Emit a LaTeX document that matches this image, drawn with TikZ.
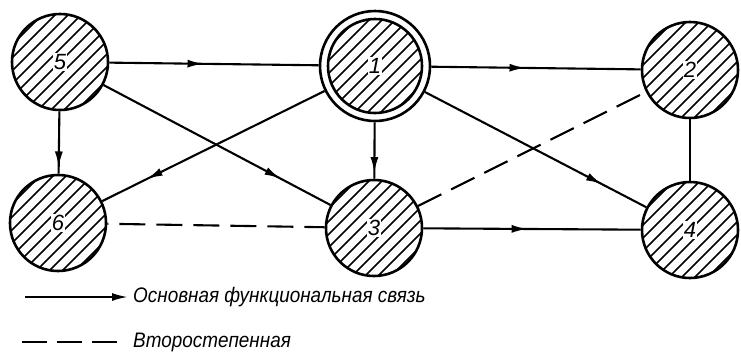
\documentclass[tikz,border=0pt]{standalone}
\usepackage{fontspec}
\setmainfont{Liberation Sans}
\newfontfamily\legfont{Liberation Sans}[FakeStretch=0.9]
\usetikzlibrary{arrows.meta,decorations.markings}
\newcommand\zonehatch[1]{%
  \clip (path picture bounding box.center) circle (#1);
  \foreach \k in {-91,-78,...,91}
    \draw[hatchline] ([shift={(\k-90,90)}]path picture bounding box.center) -- ++(180,-180);}
\begin{document}
\begin{tikzpicture}[x=1pt,y=-1pt,
  hatchline/.style={line width=1.6pt},
  zone/.style={circle, draw, line width=2.6pt, minimum size=96pt, inner sep=0pt,
    path picture={\zonehatch{48}}},
  mainzone/.style={circle, draw, line width=2.6pt, minimum size=110pt, inner sep=0pt,
    path picture={\draw[line width=2.6pt] (path picture bounding box.center) circle (47);\zonehatch{47}}},
  digit/.style={font=\fontsize{22}{22}\selectfont\itshape, fill=white, inner sep=1pt},
  conn/.style={line width=2.1pt},
  sec/.style={line width=2.1pt, dash pattern=on 26pt off 11pt},
  midarrow/.style={postaction={decorate}, decoration={markings,
    mark=at position #1 with {\arrow{Latex[length=16pt,width=8pt]}}}},
  legtext/.style={anchor=west, font=\legfont\fontsize{21}{21}\selectfont\itshape, inner sep=0pt}
]
\useasboundingbox (0,0) rectangle (741,357);
% zones
\node[zone] (n5) at (60,62) {};
\node[mainzone] (n1) at (375,66) {};
\node[zone] (n2) at (690,70) {};
\node[zone] (n6) at (58,223) {};
\node[zone] (n3) at (374,228) {};
\node[zone] (n4) at (690,230) {};
\node[digit] (d5) at (n5) {5};
\node[digit] (d1) at (n1) {1};
\node[digit] (d2) at (n2) {2};
\node[digit] (d6) at (n6) {6};
\node[digit] (d3) at (n3) {3};
\node[digit] (d4) at (n4) {4};
% main links
\draw[conn, midarrow=0.45] (n5) -- (n1);
\draw[conn, midarrow=0.45] (n1) -- (n2);
\draw[conn, midarrow=0.48] (n3) -- (n4);
\draw[conn, midarrow=0.9] (n5) -- (n6);
\draw[conn, midarrow=0.9] (n1) -- (n3);
\draw[conn, midarrow=0.78] (n5) -- (n3);
\draw[conn, midarrow=0.8] (n1) -- (n6);
\draw[conn, midarrow=0.8] (n1) -- (n4);
\draw[conn] (n2) -- (n4);
% secondary links
\draw[sec, dash phase=-12pt] (n6) -- (n3);
\draw[sec] (n3) -- (n2);
% legend
\coordinate (la) at (25,297);
\coordinate (lb) at (128,297);
\draw[conn, -{Latex[length=16pt,width=8pt]}] (la) -- (lb);
\node[legtext] (lt1) at (133,297) {Основная функциональная связь};
\coordinate (lc) at (22,342);
\coordinate (ld) at (117,342);
\draw[line width=2.1pt, dash pattern=on 25pt off 10pt] (lc) -- (ld);
\node[legtext] (lt2) at (133,342) {Второстепенная};
\end{tikzpicture}
\end{document}
